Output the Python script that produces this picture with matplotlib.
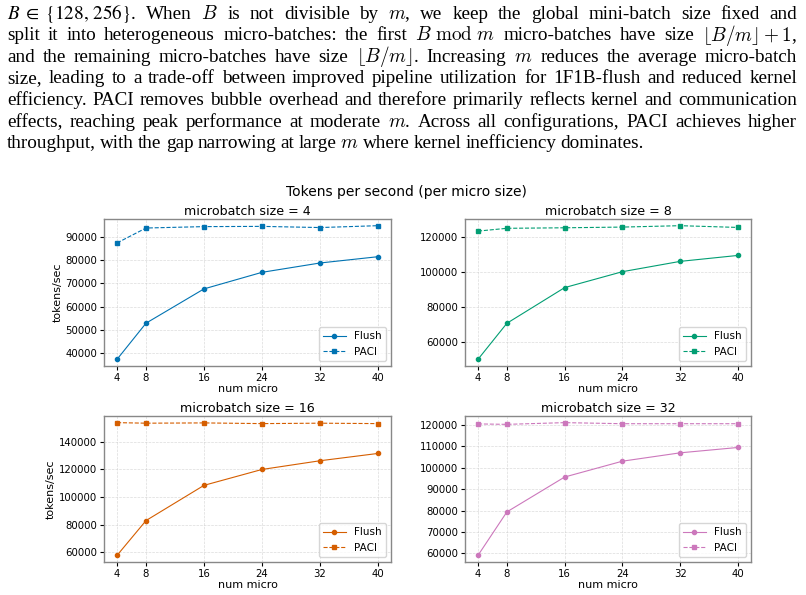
import re
import matplotlib
matplotlib.use("Agg")
from matplotlib import pyplot as plt

plt.rcParams['mathtext.fontset'] = 'cm'

# paragraph above the figure
para_lines = [
    r"$B\;\in\;\{128,\,256\}$. When $B$ is not divisible by $m$, we keep the global mini-batch size fixed and",
    r"split it into heterogeneous micro-batches: the first $B\ \mathrm{mod}\ m$ micro-batches have size $\lfloor B/m \rfloor + 1$,",
    r"and the remaining micro-batches have size $\lfloor B/m \rfloor$. Increasing $m$ reduces the average micro-batch",
    r"size, leading to a trade-off between improved pipeline utilization for 1F1B-flush and reduced kernel",
    r"efficiency. PACI removes bubble overhead and therefore primarily reflects kernel and communication",
    r"effects, reaching peak performance at moderate $m$. Across all configurations, PACI achieves higher",
    r"throughput, with the gap narrowing at large $m$ where kernel inefficiency dominates.",
]

num_micro = [4, 8, 16, 24, 32, 40]
micro_sizes = [4, 8, 16, 32]
flush = {
    4: [37400, 52900, 67600, 74700, 78700, 81400],
    8: [49900, 70500, 90900, 100000, 105900, 109300],
    16: [57800, 83000, 108500, 120000, 126300, 131600],
    32: [59100, 79400, 95700, 103100, 107000, 109500],
}
paci = {
    4: [87300, 93700, 94300, 94400, 93900, 94700],
    8: [123200, 124800, 125100, 125500, 126300, 125300],
    16: [153900, 153500, 153700, 153200, 153500, 153200],
    32: [120500, 120300, 121100, 120600, 120600, 120600],
}
colors = ['#0173b2', '#029e73', '#d55e00', '#cc78bc']

W, H = 806, 595
fig = plt.figure(figsize=(W / 100, H / 100), dpi=100)
renderer = fig.canvas.get_renderer()

# justified paragraph, drawn word by word
left_px, right_px = 7, 797
baselines = [19, 40.5, 62, 83.5, 105, 126.7, 148.3]
fs = 13.8
for i, line in enumerate(para_lines):
    words = re.findall(r'(?:\$[^$]*\$|[^\s$])+', line)
    y = 1 - baselines[i] / H
    texts = []
    for w in words:
        # cm braces are oversized, stix ones sit on the line like the source
        mf = 'stix' if r'\{' in w else 'cm'
        texts.append(fig.text(0, y, w, fontsize=fs, family='Liberation Serif',
                              va='baseline', math_fontfamily=mf))
    widths = [t.get_window_extent(renderer).width for t in texts]
    if i < len(para_lines) - 1:
        gap = (right_px - left_px - sum(widths)) / (len(words) - 1)
        gap = max(gap, 2.0)
    else:
        gap = fs * 0.3
    x = left_px
    for t, w in zip(texts, widths):
        t.set_x(x / W)
        x += w + gap

fig.suptitle('Tokens per second (per micro size)', x=0.504, y=1 - 192 / H,
             va='center', fontsize=10)

boxes = [(104, 219, 391, 366), (465, 219, 751, 366),
         (104, 416, 391, 562), (465, 416, 751, 562)]
for k, mb in enumerate(micro_sizes):
    x0, y0, x1, y1 = boxes[k]
    ax = fig.add_axes([x0 / W, 1 - y1 / H, (x1 - x0) / W, (y1 - y0) / H])
    c = colors[k]
    ax.plot(num_micro, flush[mb], color=c, marker='o', ms=3.0, lw=0.8, label='Flush')
    ax.plot(num_micro, paci[mb], color=c, marker='s', ms=3.0, lw=0.8, ls='--', label='PACI')
    ax.set_title(f'microbatch size = {mb}', fontsize=9.1, pad=3)
    ax.set_xticks(num_micro)
    ax.set_xlabel('num micro', fontsize=8, labelpad=1)
    if k % 2 == 0:
        ax.set_ylabel('tokens/sec', fontsize=8, labelpad=2)
    ax.tick_params(labelsize=7.3, length=3, pad=2)
    ax.grid(True, ls='--', lw=0.5, color='#cccccc', alpha=0.7)
    for s in ax.spines.values():
        s.set_color('#888888')
        s.set_linewidth(1.0)
    ax.legend(loc='lower right', fontsize=7.5, handlelength=2.2)

fig.savefig('out.png', dpi=100)
